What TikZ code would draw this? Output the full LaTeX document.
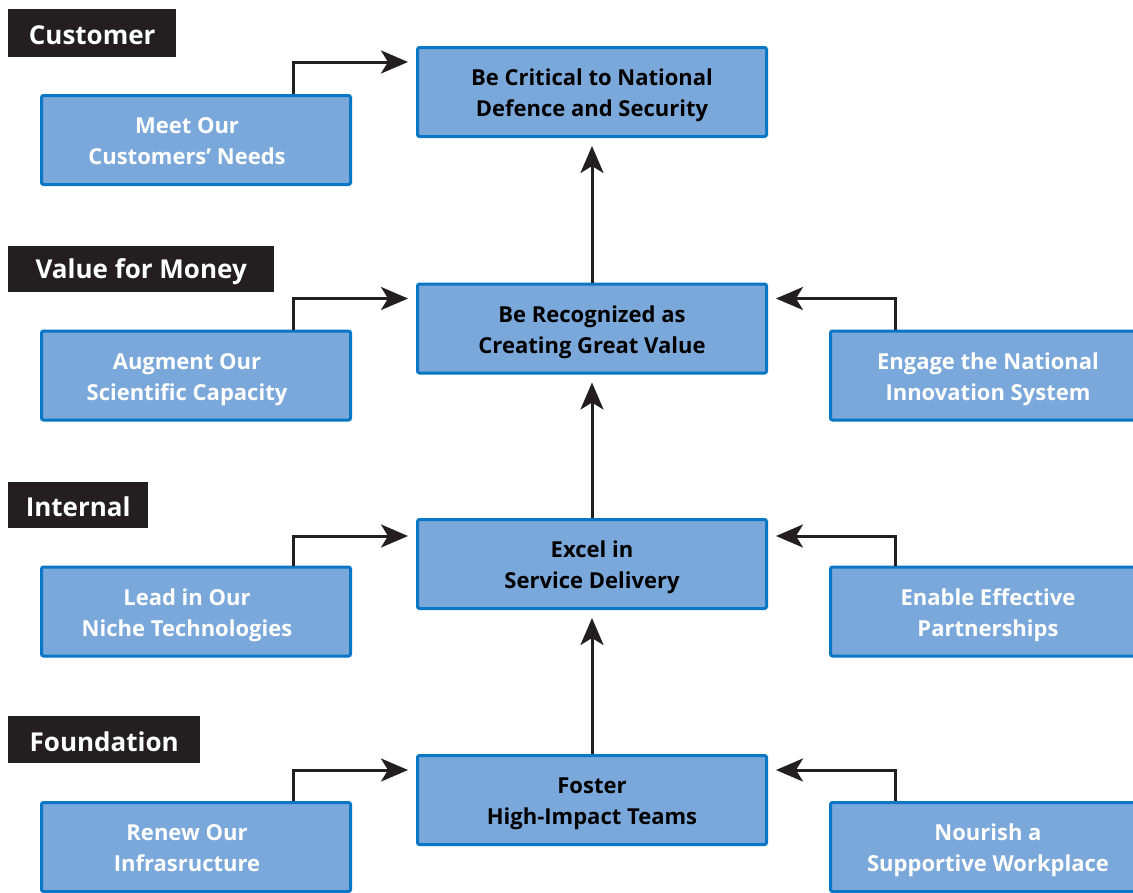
\documentclass[tikz,border=0pt]{standalone}
\usepackage{fontspec}
\setmainfont{Open Sans}
\usetikzlibrary{arrows.meta}
\definecolor{boxfill}{HTML}{7BA8DA}
\definecolor{boxline}{HTML}{0A76C6}
\definecolor{labbg}{HTML}{231F20}
\definecolor{arrowc}{HTML}{231F20}
\newcommand\btxt[1]{\raisebox{-3pt}[\height][\depth]{\begin{tabular}{@{}c@{}}#1\end{tabular}}}
\newcommand\ltxt[1]{\raisebox{-2pt}[\height][\depth]{#1}}
\begin{document}
\begin{tikzpicture}[x=1pt,y=-1pt,
 box/.style={draw=boxline, fill=boxfill, line width=3pt, rounded corners=2pt, inner sep=0pt,
   font=\bfseries\fontsize{22}{31}\selectfont},
 midbox/.style={box, minimum width=349pt, minimum height=89pt, text=black},
 sidebox/.style={box, minimum width=309pt, minimum height=89pt, text=white},
 rightbox/.style={box, minimum width=315pt, minimum height=89pt, text=white},
 cat/.style={fill=labbg, text=white, inner sep=0pt, anchor=north west,
   font=\bfseries\fontsize{26}{32}\selectfont},
 conn/.style={draw=arrowc, line width=3pt, shorten >=8pt,
   -{Stealth[length=27pt,width=23pt,inset=7pt]}},
]
\clip (0,0) rectangle (1133,892);
\fill[white] (0,0) rectangle (1133,892);

% category labels
\node[cat, minimum width=168pt, minimum height=48pt] (c1) at (8,9) {\ltxt{Customer}};
\node[cat, minimum width=266pt, minimum height=46pt] (c2) at (8,246) {\ltxt{Value for Money}};
\node[cat, minimum width=140pt, minimum height=46pt] (c3) at (8,482) {\ltxt{Internal}};
\node[cat, minimum width=192pt, minimum height=47pt] (c4) at (8,716) {\ltxt{Foundation}};

% middle column
\node[midbox] (m1) at (592,92) {\btxt{Be Critical to National\\Defence and Security}};
\node[midbox] (m2) at (592,328.5) {\btxt{Be Recognized as\\Creating Great Value}};
\node[midbox] (m3) at (592,564) {\btxt{Excel in\\Service Delivery}};
\node[midbox] (m4) at (592,800) {\btxt{Foster\\High-Impact Teams}};

% left column
\node[sidebox] (l1) at (196,140) {\btxt{Meet Our\\Customers’ Needs}\hspace*{18pt}};
\node[sidebox] (l2) at (196,375.5) {\btxt{Augment Our\\Scientific Capacity}\hspace*{18pt}};
\node[sidebox] (l3) at (196,611.5) {\btxt{Lead in Our\\Niche Technologies}\hspace*{18pt}};
\node[sidebox] (l4) at (196,847) {\btxt{Renew Our\\Infrasructure}\hspace*{18pt}};

% right column
\node[rightbox] (r2) at (988,375.5) {\btxt{Engage the National\\Innovation System}};
\node[rightbox] (r3) at (988,611.5) {\btxt{Enable Effective\\Partnerships}};
\node[rightbox] (r4) at (988,847) {\btxt{Nourish a\\Supportive Workplace}};

% vertical connectors
\draw[conn] (m2.north) -- (m1.south);
\draw[conn] (m3.north) -- (m2.south);
\draw[conn] (m4.north) -- (m3.south);

% left connectors
\draw[conn] ([xshift=97pt]l1.north) |- ([yshift=-16pt]m1.north west);
\draw[conn] ([xshift=97pt]l2.north) |- ([yshift=-16pt]m2.north west);
\draw[conn] ([xshift=97pt]l3.north) |- ([yshift=-18pt]m3.north west);
\draw[conn] ([xshift=97pt]l4.north) |- ([yshift=-16pt]m4.north west);

% right connectors
\draw[conn] ([xshift=-93pt]r2.north) |- ([yshift=-16pt]m2.north east);
\draw[conn] ([xshift=-93pt]r3.north) |- ([yshift=-18pt]m3.north east);
\draw[conn] ([xshift=-93pt]r4.north) |- ([yshift=-16pt]m4.north east);
\end{tikzpicture}
\end{document}
